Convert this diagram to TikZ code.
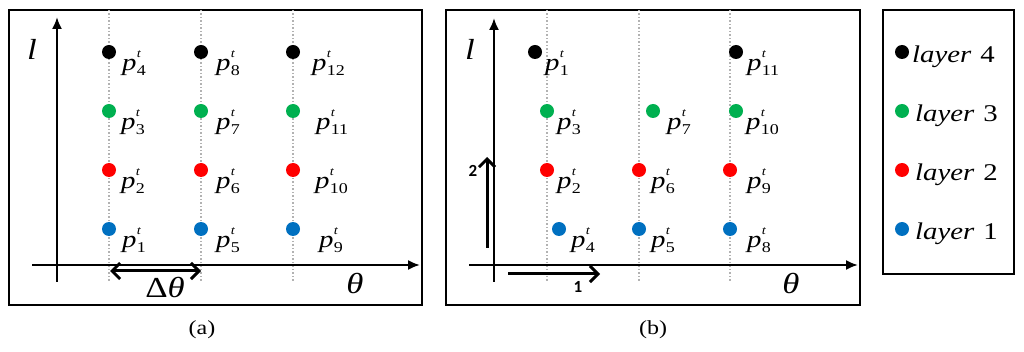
\documentclass[tikz,border=0pt]{standalone}
\usepackage{fontspec}
\setmainfont{Liberation Serif}[FakeStretch=1.2]
\newfontfamily\numfont{Carlito}
\usetikzlibrary{arrows.meta}
\definecolor{lgreen}{HTML}{00B050}
\definecolor{lred}{HTML}{FF0000}
\definecolor{lblue}{HTML}{0070C0}
\definecolor{lblack}{HTML}{000000}
\newcommand\plab[1]{\fontsize{24}{24}\selectfont\textit{p}\kern0.3pt\rlap{\raisebox{13pt}{\fontsize{12}{12}\selectfont\textit{t}}}\raisebox{-5pt}{\fontsize{15}{15}\selectfont #1}}
\tikzset{
  frame/.style={draw=black, line width=2pt},
  axis/.style={line width=2pt, -{Latex[length=12pt,width=10pt]}},
  grid line/.style={draw=black!30, line width=1.5pt, dotted},
  pt/.style={circle, fill=#1, inner sep=0pt, minimum size=14pt},
  plabel/.style={anchor=base west, inner sep=0pt},
  bigarrow/.style={line width=3pt, {Straight Barb[length=8pt,width=16pt]}-{Straight Barb[length=8pt,width=16pt]}},
  onearrow/.style={line width=3pt, -{Straight Barb[length=8pt,width=16pt]}},
  axlabel/.style={inner sep=0pt, font=\fontsize{29}{29}\selectfont},
  caption/.style={inner sep=0pt, font=\fontsize{20}{20}\selectfont},
  numlabel/.style={inner sep=0pt, font=\numfont\bfseries\fontsize{17}{17}\selectfont},
  legtext/.style={anchor=base west, inner sep=0pt, font=\fontsize{24}{24}\selectfont}
}
\begin{document}
\begin{tikzpicture}[x=1pt,y=-1pt]
\useasboundingbox (0,0) rectangle (1024,352);

% ---------- panel (a) ----------
\draw[frame] (9,10) rectangle (422,305);
\foreach \x/\n in {109/1,201/2,293/3}{
  \coordinate (ag\n t) at (\x,10);
  \coordinate (ag\n b) at (\x,282);
  \draw[grid line] (ag\n t) -- (ag\n b);
}
\coordinate (axs) at (32,265);
\coordinate (axe) at (420,265);
\coordinate (ays) at (57,282);
\coordinate (aye) at (57,17);
\draw[axis] (axs) -- (axe);
\draw[axis] (ays) -- (aye);

% dots (a)
\node[pt=lblue]  (a1)  at (109,229) {};
\node[pt=lred]   (a2)  at (109,170) {};
\node[pt=lgreen] (a3)  at (109,111) {};
\node[pt=lblack] (a4)  at (109,52)  {};
\node[pt=lblue]  (a5)  at (201,229) {};
\node[pt=lred]   (a6)  at (201,170) {};
\node[pt=lgreen] (a7)  at (201,111) {};
\node[pt=lblack] (a8)  at (201,52)  {};
\node[pt=lblue]  (a9)  at (293,229) {};
\node[pt=lred]   (a10) at (293,170) {};
\node[pt=lgreen] (a11) at (293,111) {};
\node[pt=lblack] (a12) at (293,52)  {};

% labels (a)
\node[plabel] (la1)  at (122,248) {\plab{1}};
\node[plabel] (la2)  at (121,189) {\plab{2}};
\node[plabel] (la3)  at (121,130) {\plab{3}};
\node[plabel] (la4)  at (122,71)  {\plab{4}};
\node[plabel] (la5)  at (216,248) {\plab{5}};
\node[plabel] (la6)  at (216,189) {\plab{6}};
\node[plabel] (la7)  at (216,130) {\plab{7}};
\node[plabel] (la8)  at (216,71)  {\plab{8}};
\node[plabel] (la9)  at (319,248) {\plab{9}};
\node[plabel] (la10) at (315,189) {\plab{10}};
\node[plabel] (la11) at (316,130) {\plab{11}};
\node[plabel] (la12) at (312,71)  {\plab{12}};

\coordinate (dts) at (110,271);
\coordinate (dte) at (201,271);
\draw[bigarrow] (dts) -- (dte);
\node[axlabel] (dtheta) at (165,288) {Δ\textit{θ}};
\node[axlabel] (atheta) at (355,284) {\textit{θ}};
\node[axlabel] (al) at (32,49) {\textit{l}};
\node[caption] (capa) at (202,330) {(a)};

% ---------- panel (b) ----------
\draw[frame] (446,10) rectangle (860,305);
\foreach \x/\n in {547/1,639/2,730/3}{
  \coordinate (bg\n t) at (\x,10);
  \coordinate (bg\n b) at (\x,282);
  \draw[grid line] (bg\n t) -- (bg\n b);
}
\coordinate (bxs) at (469,265);
\coordinate (bxe) at (858,265);
\coordinate (bys) at (494,282);
\coordinate (bye) at (494,18);
\draw[axis] (bxs) -- (bxe);
\draw[axis] (bys) -- (bye);

\node[pt=lblack] (b1)  at (535,52)  {};
\node[pt=lblack] (b11) at (736,52)  {};
\node[pt=lgreen] (b3)  at (547,111) {};
\node[pt=lgreen] (b7)  at (653,111) {};
\node[pt=lgreen] (b10) at (736,111) {};
\node[pt=lred]   (b2)  at (547,170) {};
\node[pt=lred]   (b6)  at (639,170) {};
\node[pt=lred]   (b9)  at (730,170) {};
\node[pt=lblue]  (b4)  at (559,229) {};
\node[pt=lblue]  (b5)  at (639,229) {};
\node[pt=lblue]  (b8)  at (730,229) {};

\node[plabel] (lb1)  at (545,71)  {\plab{1}};
\node[plabel] (lb11) at (747,71)  {\plab{11}};
\node[plabel] (lb3)  at (557,130) {\plab{3}};
\node[plabel] (lb7)  at (667,130) {\plab{7}};
\node[plabel] (lb10) at (746,130) {\plab{10}};
\node[plabel] (lb2)  at (557,189) {\plab{2}};
\node[plabel] (lb6)  at (651,189) {\plab{6}};
\node[plabel] (lb9)  at (747,189) {\plab{9}};
\node[plabel] (lb4)  at (571,248) {\plab{4}};
\node[plabel] (lb5)  at (651,248) {\plab{5}};
\node[plabel] (lb8)  at (747,248) {\plab{8}};

\coordinate (v2s) at (487,248);
\coordinate (v2e) at (487,157);
\draw[onearrow] (v2s) -- (v2e);
\node[numlabel] (n2) at (473,171) {2};
\coordinate (h1s) at (508,274);
\coordinate (h1e) at (600,274);
\draw[onearrow] (h1s) -- (h1e);
\node[numlabel] (n1) at (578,287) {1};

\node[axlabel] (btheta) at (791,284) {\textit{θ}};
\node[axlabel] (bl) at (470,49) {\textit{l}};
\node[caption] (capb) at (653,330) {(b)};

% ---------- legend ----------
\draw[frame] (883,10) rectangle (1014,274);
\node[pt=lblack] (g4) at (902,52)  {};
\node[pt=lgreen] (g3) at (902,111) {};
\node[pt=lred]   (g2) at (902,170) {};
\node[pt=lblue]  (g1) at (902,229) {};
\node[legtext] (t4) at (912,63)  {\textit{layer}\hspace{9pt}4};
\node[legtext] (t3) at (915,122) {\textit{layer}\hspace{9pt}3};
\node[legtext] (t2) at (915,181) {\textit{layer}\hspace{9pt}2};
\node[legtext] (t1) at (915,240) {\textit{layer}\hspace{9pt}1};
\end{tikzpicture}
\end{document}
